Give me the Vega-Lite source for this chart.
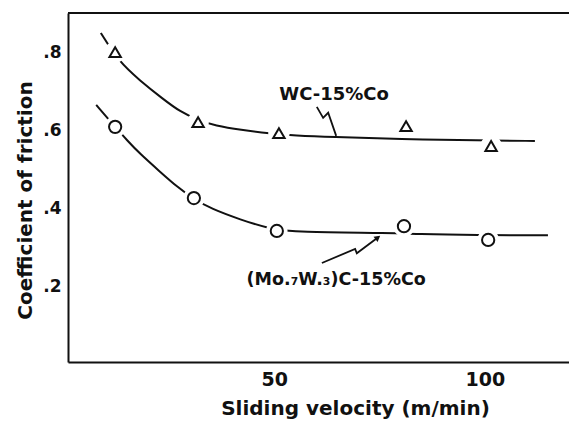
{
  "$schema": "https://vega.github.io/schema/vega-lite/v6.json",
  "autosize": {"type": "none"},
  "padding": {"left": 68, "top": 13, "right": 0, "bottom": 64},
  "width": 501,
  "height": 349,
  "background": "white",
  "config": {
    "view": {"stroke": null},
    "font": "DejaVu Sans",
    "axis": {"grid": false, "domainColor": "#111", "domainWidth": 2, "labelColor": "#111", "titleColor": "#111", "labelFont": "DejaVu Sans", "titleFont": "DejaVu Sans", "labelFontWeight": "bold", "titleFontWeight": "bold"}
  },
  "datasets": {
    "pts": [
      {"series": "WC", "v": 12.2, "mu": 0.80},
      {"series": "WC", "v": 31.9, "mu": 0.621},
      {"series": "WC", "v": 51.1, "mu": 0.593},
      {"series": "WC", "v": 81.3, "mu": 0.611},
      {"series": "WC", "v": 101.5, "mu": 0.56},
      {"series": "Mo", "v": 12.2, "mu": 0.609},
      {"series": "Mo", "v": 30.9, "mu": 0.427},
      {"series": "Mo", "v": 50.6, "mu": 0.343},
      {"series": "Mo", "v": 80.8, "mu": 0.355},
      {"series": "Mo", "v": 100.8, "mu": 0.32}
    ],
    "fit": [
      {"series": "WC", "v": 8.8, "mu": 0.849},
      {"series": "WC", "v": 12.9, "mu": 0.778},
      {"series": "WC", "v": 18.1, "mu": 0.727},
      {"series": "WC", "v": 23.6, "mu": 0.680},
      {"series": "WC", "v": 27.6, "mu": 0.648},
      {"series": "WC", "v": 31.9, "mu": 0.626},
      {"series": "WC", "v": 36.0, "mu": 0.612},
      {"series": "WC", "v": 42.0, "mu": 0.601},
      {"series": "WC", "v": 49.0, "mu": 0.592},
      {"series": "WC", "v": 55.0, "mu": 0.587},
      {"series": "WC", "v": 63.2, "mu": 0.583},
      {"series": "WC", "v": 79.9, "mu": 0.578},
      {"series": "WC", "v": 98.9, "mu": 0.574},
      {"series": "WC", "v": 111.9, "mu": 0.573},
      {"series": "Mo", "v": 7.7, "mu": 0.665},
      {"series": "Mo", "v": 12.2, "mu": 0.609},
      {"series": "Mo", "v": 15.0, "mu": 0.575},
      {"series": "Mo", "v": 18.1, "mu": 0.540},
      {"series": "Mo", "v": 22.9, "mu": 0.494},
      {"series": "Mo", "v": 27.0, "mu": 0.455},
      {"series": "Mo", "v": 30.9, "mu": 0.424},
      {"series": "Mo", "v": 35.0, "mu": 0.400},
      {"series": "Mo", "v": 41.9, "mu": 0.372},
      {"series": "Mo", "v": 49.0, "mu": 0.348},
      {"series": "Mo", "v": 55.0, "mu": 0.340},
      {"series": "Mo", "v": 78.7, "mu": 0.338},
      {"series": "Mo", "v": 83.2, "mu": 0.335},
      {"series": "Mo", "v": 98.1, "mu": 0.332},
      {"series": "Mo", "v": 115, "mu": 0.332}
    ],
    "leaders": [
      {"series": "WC", "k": 1, "v": 60.1, "mu": 0.660},
      {"series": "WC", "k": 2, "v": 61.6, "mu": 0.632},
      {"series": "WC", "k": 3, "v": 62.8, "mu": 0.645},
      {"series": "WC", "k": 4, "v": 64.7, "mu": 0.586},
      {"series": "Mo", "k": 1, "v": 61.3, "mu": 0.261},
      {"series": "Mo", "k": 2, "v": 69.2, "mu": 0.297},
      {"series": "Mo", "k": 3, "v": 69.6, "mu": 0.286},
      {"series": "Mo", "k": 4, "v": 74.6, "mu": 0.326}
    ],
    "arrow": [
      {"v": 74.6, "mu": 0.326}
    ],
    "labels": [
      {"text": "WC-15%Co", "v": 64.2, "mu": 0.691, "fs": 18},
      {"text": "(Mo.₇W.₃)C-15%Co", "v": 64.7, "mu": 0.217, "fs": 17.5}
    ]
  },
  "encoding": {
    "x": {"field": "v", "type": "quantitative", "scale": {"domain": [1, 120], "nice": false, "zero": false}},
    "y": {"field": "mu", "type": "quantitative", "scale": {"domain": [0.008, 0.9], "nice": false, "zero": false}}
  },
  "layer": [
    {
      "data": {"name": "fit"},
      "mark": {"type": "line", "color": "#111", "strokeWidth": 2, "interpolate": "basis"},
      "encoding": {
        "detail": {"field": "series"},
        "x": {"field": "v", "type": "quantitative", "scale": {"domain": [1, 120], "nice": false, "zero": false},
          "axis": {"values": [50, 100], "tickSize": 0, "labelPadding": 8, "labelFontSize": 19, "title": "Sliding velocity (m/min)", "titleFontSize": 20, "titleX": 287, "titleY": 46, "titleBaseline": "middle", "titleAnchor": null, "titleAlign": "center"}},
        "y": {"field": "mu", "type": "quantitative", "scale": {"domain": [0.008, 0.9], "nice": false, "zero": false},
          "axis": {"values": [0.2, 0.4, 0.6, 0.8], "tickSize": 0, "labelPadding": 7, "labelFontSize": 17, "labelExpr": "replace(format(datum.value, '.1f'), '0.', '.')", "title": "Coefficient of friction", "titleFontSize": 20, "titleX": -43, "titleY": 187, "titleBaseline": "middle", "titleAnchor": null, "titleAlign": "center"}}
      }
    },
    {
      "data": {"name": "pts"},
      "transform": [{"filter": "!(datum.series == 'WC' && datum.v > 80 && datum.v < 90)"}],
      "mark": {"type": "circle", "fill": "white", "size": 460, "opacity": 1}
    },
    {
      "data": {"name": "pts"},
      "mark": {"type": "point", "filled": false, "stroke": "#111", "fill": "white", "fillOpacity": 1, "strokeWidth": 2, "opacity": 1},
      "encoding": {
        "shape": {"field": "series", "type": "nominal", "scale": {"domain": ["WC", "Mo"], "range": ["triangle-up", "circle"]}, "legend": null},
        "size": {"field": "series", "type": "nominal", "scale": {"domain": ["WC", "Mo"], "range": [130, 150]}, "legend": null}
      }
    },
    {
      "data": {"name": "leaders"},
      "mark": {"type": "line", "color": "#111", "strokeWidth": 1.8},
      "encoding": {"detail": {"field": "series"}, "order": {"field": "k"}}
    },
    {
      "data": {"name": "arrow"},
      "mark": {"type": "point", "shape": "triangle-right", "angle": -37, "size": 45, "filled": true, "color": "#111", "opacity": 1}
    },
    {
      "data": {"name": "labels"},
      "mark": {"type": "text", "font": "DejaVu Sans", "fontWeight": "bold", "color": "#111", "align": "center", "baseline": "middle"},
      "encoding": {"text": {"field": "text"}, "size": {"field": "fs", "type": "quantitative", "scale": null}}
    },
    {
      "data": {"values": [{"v": 1, "mu": 0.9}, {"v": 120, "mu": 0.9}]},
      "mark": {"type": "line", "color": "#111", "strokeWidth": 2},
      "encoding": {}
    }
  ]
}
